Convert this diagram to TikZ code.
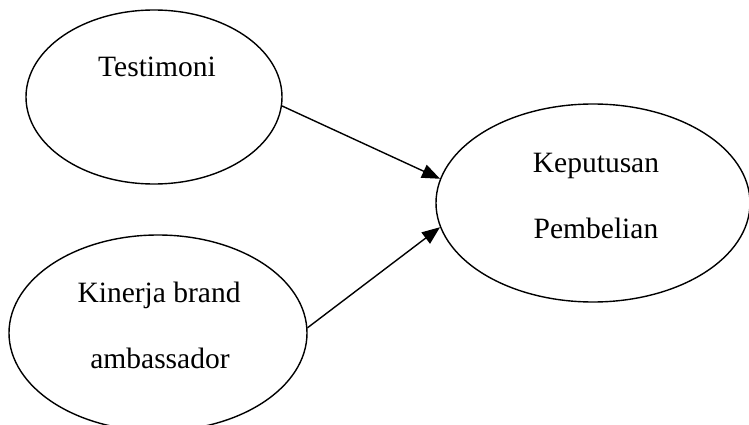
\documentclass[tikz,border=0pt]{standalone}
\usepackage{fontspec}
\setmainfont{Liberation Serif}
\usetikzlibrary{shapes.geometric,arrows.meta}
\tikzset{
  oval/.style={draw, line width=1.4pt, ellipse, inner sep=0pt},
  lbl/.style={font=\fontsize{29.5}{66}\selectfont, inner sep=0pt, anchor=base},
  conn/.style={line width=1.4pt, -{Triangle[length=18pt,width=14pt]}}
}
\begin{document}
\begin{tikzpicture}[x=1pt,y=-1pt]
\useasboundingbox (0,0) rectangle (749,425);
\node[oval, minimum width=256pt, minimum height=174pt] (t) at (154,97) {};
\node[oval, minimum width=314pt, minimum height=198pt] (k) at (593,203) {};
\node[oval, minimum width=298pt, minimum height=196pt] (a) at (158,333) {};
\node[lbl] (tl) at (157,77) {Testimoni};
\node[lbl] (k1) at (596,172) {Keputusan};
\node[lbl] (k2) at (596,238) {Pembelian};
\node[lbl] (a1) at (159,302) {Kinerja brand};
\node[lbl] (a2) at (160,368) {ambassador};
\draw[conn] (t.-4) -- (k.171);
\draw[conn] (a.2) -- (k.189);
\end{tikzpicture}
\end{document}
